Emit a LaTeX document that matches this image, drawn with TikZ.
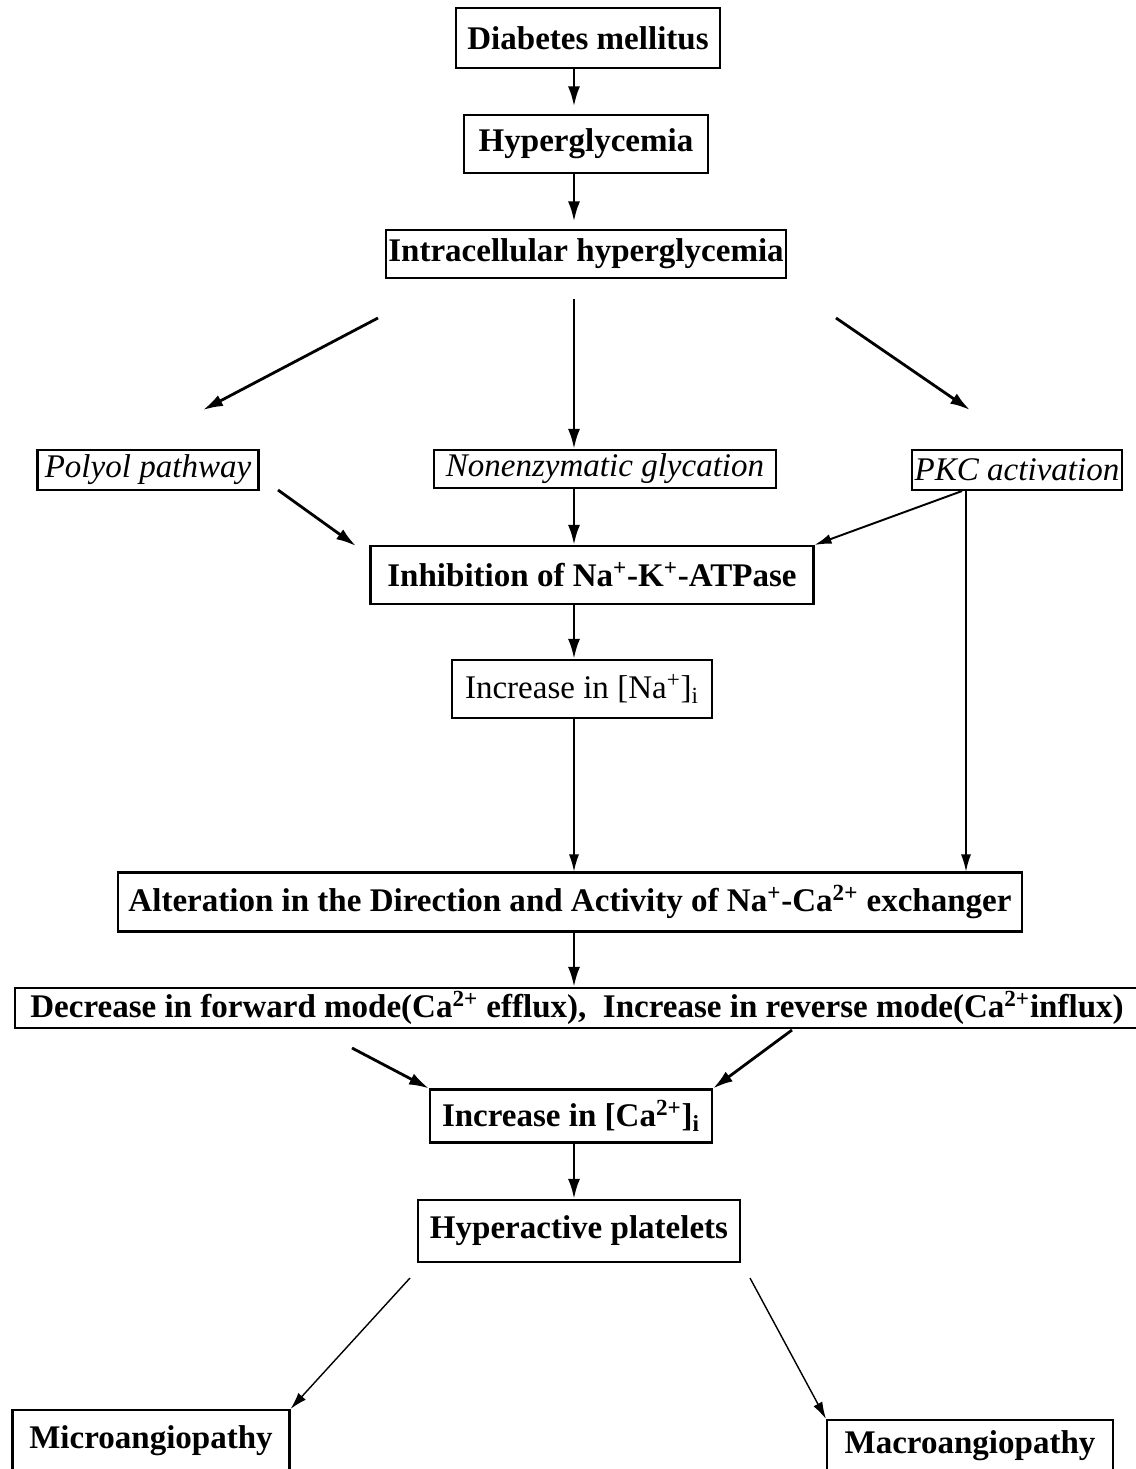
\documentclass[tikz,border=0pt]{standalone}
\usepackage{fontspec}
\setmainfont{Liberation Serif}
\usetikzlibrary{arrows.meta,calc}
\newcommand{\boxfont}{\fontsize{18.8}{21}\selectfont}
\tikzset{
  box/.style={rectangle, draw, line width=1.2pt, inner sep=0pt, align=center,
              font=\boxfont\bfseries},
  ibox/.style={box, font=\boxfont\itshape},
  rbox/.style={box, font=\boxfont},
  flow/.style={-{Latex[length=4mm,width=2.4mm]}, line width=1.6pt},
  thinflow/.style={-{Latex[length=3.4mm,width=2mm]}, line width=0.8pt}
}

\begin{document}
\begin{tikzpicture}[x=0.02cm, y=-0.02cm]
\useasboundingbox (0,0) rectangle (1135,1469);
% spine of the vertical arrows
\coordinate (spine) at (574,0);
\coordinate (pkcx) at (966,0);
% boxes
\node[box, minimum width=5.28cm, minimum height=1.2cm] (dm) at (588,38) {Diabetes mellitus};
\node[box, minimum width=4.88cm, minimum height=1.16cm] (hyp) at (586,144) {Hyperglycemia};
\node[box, minimum width=8.0cm, minimum height=0.96cm] (intra) at (586,254) {Intracellular hyperglycemia};
\node[ibox, minimum width=4.42cm, minimum height=0.8cm] (polyol) at (148,470) {Polyol pathway};
\node[ibox, minimum width=6.84cm, minimum height=0.76cm] (nonenz) at (605,469) {Nonenzymatic glycation};
\node[ibox, minimum width=4.2cm, minimum height=0.8cm] (pkc) at (1017,470) {PKC activation};
\node[box, minimum width=8.86cm, minimum height=1.16cm] (inhib) at (592,575)
  {Inhibition of Na\textsuperscript{+}-K\textsuperscript{+}-ATPase};
\node[rbox, minimum width=5.2cm, minimum height=1.16cm] (nai) at (582,689)
  {Increase in [Na\textsuperscript{+}]\textsubscript{i}};
\node[box, minimum width=18.08cm, minimum height=1.18cm] (alt) at (570,902)
  {Alteration in the Direction and Activity of Na\textsuperscript{+}-Ca\textsuperscript{2+} exchanger};
\node[box, minimum width=22.5cm, minimum height=0.8cm] (mode) at (577,1008)
  {Decrease in forward mode(Ca\textsuperscript{2+} efflux),\ \ Increase in reverse mode(Ca\textsuperscript{2+}influx)};
\node[box, minimum width=5.64cm, minimum height=1.06cm] (cai) at (571,1116)
  {Increase in [Ca\textsuperscript{2+}]\textsubscript{i}};
\node[box, minimum width=6.44cm, minimum height=1.24cm] (plt) at (579,1231) {Hyperactive platelets};
\node[box, minimum width=5.54cm, minimum height=1.24cm] (micro) at (151,1441) {Microangiopathy};
\node[box, minimum width=5.72cm, minimum height=1.04cm] (macro) at (970,1446) {Macroangiopathy};
% free arrow ends
\coordinate (l1) at (378,318); \coordinate (l2) at (203,410);
\coordinate (r1) at (836,318); \coordinate (r2) at (970,410);
\coordinate (pp) at (278,490); \coordinate (pi) at (356,546);
\coordinate (ml) at (352,1048); \coordinate (mr) at (792,1030);
\coordinate (pl) at (410,1278); \coordinate (pr) at (750,1278);
% connectors
\draw[flow, shorten >=0.15cm] (dm.south -| spine) -- (hyp.north -| spine);
\draw[flow, shorten >=0.15cm] (hyp.south -| spine) -- (intra.north -| spine);
\draw[flow] (l1) -- (l2);
\draw[flow, shorten <=0.4cm] (intra.south -| spine) -- (nonenz.north -| spine);
\draw[flow] (r1) -- (r2);
\draw[flow] (pp) -- (pi);
\draw[flow] (nonenz.south -| spine) -- (inhib.north -| spine);
\draw[thinflow, line width=1.1pt] ($(pkc.south)+(-55,0)$) -- (inhib.north east);
\draw[thinflow] (pkc.south -| pkcx) -- (alt.north -| pkcx);
\draw[flow] (inhib.south -| spine) -- (nai.north -| spine);
\draw[thinflow] (nai.south -| spine) -- (alt.north -| spine);
\draw[flow] (alt.south -| spine) -- (mode.north -| spine);
\draw[flow] (ml) -- (cai.north west);
\draw[flow] (mr) -- (cai.north east);
\draw[flow] (cai.south -| spine) -- (plt.north -| spine);
\draw[thinflow] (pl) -- (micro.north east);
\draw[thinflow] (pr) -- (macro.north west);
\end{tikzpicture}
\end{document}
